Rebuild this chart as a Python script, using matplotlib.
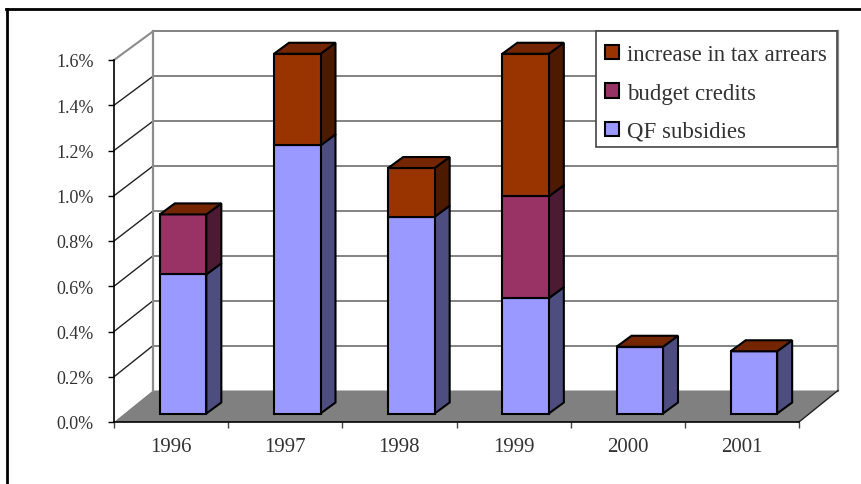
import matplotlib.pyplot as plt
from matplotlib.patches import Polygon

years = ["1996", "1997", "1998", "1999", "2000", "2001"]
qf_subsidies = [0.615, 1.185, 0.87, 0.51, 0.295, 0.275]
budget_credits = [0.265, 0.0, 0.0, 0.45, 0.0, 0.0]
tax_arrears = [0.0, 0.405, 0.215, 0.63, 0.0, 0.0]
y_ticks = [0.0, 0.2, 0.4, 0.6, 0.8, 1.0, 1.2, 1.4, 1.6]

series = [
    ("QF subsidies", qf_subsidies, "#9999ff", "#4d4d80"),
    ("budget credits", budget_credits, "#993366", "#4d1a33"),
    ("increase in tax arrears", tax_arrears, "#993300", "#4d1a00"),
]
top_colour = "#732600"

plt.rcParams["font.family"] = ["Liberation Serif", "DejaVu Serif"]

W, H = 861, 485
fig = plt.figure(figsize=(W / 100, H / 100), dpi=100)
left, right, top, bottom = 114, 799, 61, 423
ax = fig.add_axes([left / W, 1 - bottom / H, (right - left) / W, (bottom - top) / H])
ax.set_xlim(0, 6)
ax.set_ylim(0, 1.6)

ux = (right - left) / 6   # pixels per category
uy = (bottom - top) / 1.6  # pixels per y unit
wall_dx, wall_dy = 39 / ux, 31.5 / uy  # depth of the chart box
wall_scale = 0.992                     # back wall is a touch shorter
bar_dx, bar_dy = 15 / ux, 11 / uy      # depth of one bar
bar_w = 46.5 / ux
shift = 12 / ux
base = 8.5 / uy

for s in ["top", "right"]:
    ax.spines[s].set_visible(False)
ax.patch.set_visible(False)
for s in ["left", "bottom"]:
    ax.spines[s].set_linewidth(1.2)
    ax.spines[s].set_zorder(8)

# floor
ax.add_patch(Polygon([(0, 0), (6, 0), (6 + wall_dx, wall_dy), (wall_dx, wall_dy)],
                     fc="#808080", ec="none", clip_on=False, zorder=1))


def back(v):
    return wall_dy + v * wall_scale


# walls and gridlines
for v in y_ticks[1:]:
    ax.plot([wall_dx, 6 + wall_dx], [back(v)] * 2, color="#6e6e6e", lw=1.2,
            clip_on=False, zorder=1)
    ax.plot([0, wall_dx], [v, back(v)], color="#222222" if v < 1.6 else "#8c8c8c",
            lw=1.0 if v < 1.6 else 1.5, clip_on=False, zorder=1)
ax.plot([wall_dx, wall_dx], [back(0), back(1.6)], color="#8c8c8c", lw=1.6,
        clip_on=False, zorder=1)
ax.plot([6 + wall_dx, 6 + wall_dx], [back(0), back(1.6)], color="#8c8c8c", lw=1.6,
        clip_on=False, zorder=1)
ax.plot([6, 6 + wall_dx], [0, wall_dy], color="#222222", lw=1.0, clip_on=False, zorder=1)

# stacked 3d bars
x_pos = [i + 0.5 + shift for i in range(len(years))]
bottoms = [base] * len(years)
for name, vals, colour, side in series:
    ax.bar(x_pos, vals, bar_w, bottom=bottoms, color=colour, edgecolor="black",
           linewidth=1.5, clip_on=False, zorder=5)
    for x, b, v in zip(x_pos, bottoms, vals):
        if v > 0:
            xr = x + bar_w / 2
            ax.add_patch(Polygon([(xr, b), (xr + bar_dx, b + bar_dy),
                                  (xr + bar_dx, b + v + bar_dy), (xr, b + v)],
                                 fc=side, ec="black", lw=1.5, clip_on=False, zorder=4))
    bottoms = [b + v for b, v in zip(bottoms, vals)]

for x, b in zip(x_pos, bottoms):
    xl = x - bar_w / 2
    ax.add_patch(Polygon([(xl, b), (xl + bar_w, b), (xl + bar_w + bar_dx, b + bar_dy),
                          (xl + bar_dx, b + bar_dy)],
                         fc=top_colour, ec="black", lw=1.5, clip_on=False, zorder=6))

# axes ticks
ax.set_yticks(y_ticks)
ax.set_yticklabels(["%.1f%%" % v for v in y_ticks], fontsize=13, color="#333333")
ax.set_xticks(range(7))
ax.set_xticklabels([])
for i, y in enumerate(years):
    ax.text(i + 0.5, -0.11, y, ha="center", va="center", fontsize=15, color="#333333")
ax.tick_params(axis="y", length=4.5, width=1.0, pad=10)
ax.tick_params(axis="x", length=4.5, width=1.0, color="#444444")

# legend box drawn apart so the rows can sit lower inside it
fig.add_artist(plt.Rectangle((596 / W, 1 - 148 / H), 241 / W, 116.5 / H, fc="white",
                             ec="#444444", lw=1.2, transform=fig.transFigure, zorder=4))
handles = [plt.Rectangle((0, 0), 1, 1, fc=c, ec="black", lw=1.5) for _, _, c, _ in series[::-1]]
labels = [s[0] for s in series[::-1]]
leg = fig.legend(handles, labels, loc="upper left",
                 bbox_to_anchor=(594 / W, 1 - 34 / H), fontsize=16.5, frameon=False,
                 labelspacing=0.75, borderaxespad=0,
                 handlelength=0.57, handleheight=0.57, handletextpad=0.35,
                 borderpad=0.5, labelcolor="#333333")

# outer chart frame, only top and left are in the picture
fig.add_artist(plt.Line2D([6.5 / W, 6.5 / W], [0, 1 - 10 / H], color="black", lw=2))
fig.add_artist(plt.Line2D([6 / W, 1], [1 - 10 / H] * 2, color="black", lw=2))

fig.savefig("out.png", dpi=100)
